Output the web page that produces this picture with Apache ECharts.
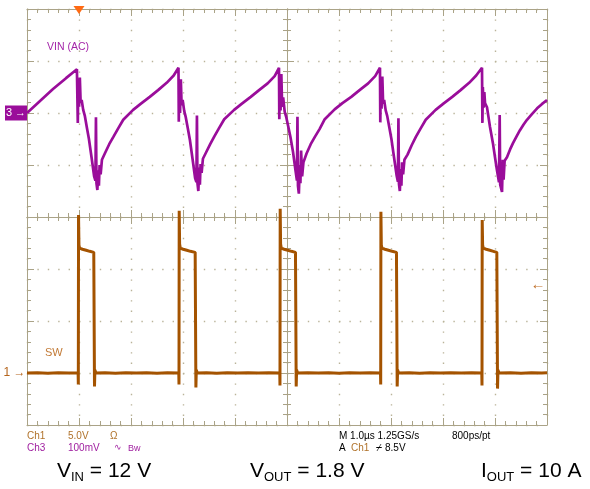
<!DOCTYPE html>
<html><head><meta charset="utf-8">
<script src="https://cdn.jsdelivr.net/npm/echarts@6/dist/echarts.min.js"></script>
<style>html,body{margin:0;padding:0;background:#fff}#c{width:590px;height:489px}</style>
</head><body><div id="c"></div><script>
// Time axis (µs, 1 µs/div, trigger at 0)
const timeRange = [-1, 9];
// Ch1 (SW) volts, 5 V/div
const ch1Range = [-5, 35];
// Ch3 (VIN AC) millivolts, 100 mV/div
const ch3Range = [-600, 200];
const triggerLevel = 8.5;

// SW node voltage [µs, V]
const swPoints = [
 [-1.0,0.0],[-0.8,0.03],[-0.6,-0.02],[-0.4,0.03],[-0.2,0.0],[-0.017,0.02],
 [-0.013,-1.1],[-0.009,15.2],[-0.001,12.3],[0.012,12.0],[0.067,11.9],[0.137,11.8],[0.207,11.7],[0.284,11.6],[0.294,11.5],[0.298,-1.3],[0.306,0.3],[0.324,0.0],
 [0.5,0.02],[0.7,-0.02],[0.9,0.03],[1.1,0.0],[1.3,0.03],[1.5,-0.02],[1.7,0.02],[1.919,0.0],
 [1.923,-1.1],[1.927,15.6],[1.935,12.4],[1.948,12.0],[2.003,11.9],[2.073,11.8],[2.143,11.7],[2.234,11.6],[2.244,11.5],[2.248,-1.4],[2.256,0.3],[2.274,0.0],
 [2.45,0.02],[2.65,-0.02],[2.85,0.03],[3.05,0.0],[3.25,0.03],[3.45,0.01],[3.65,0.02],[3.861,0.0],
 [3.865,-1.2],[3.869,15.8],[3.877,12.4],[3.89,12.0],[3.945,11.9],[4.015,11.8],[4.085,11.7],[4.163,11.6],[4.173,11.5],[4.177,-1.3],[4.185,0.3],[4.203,0.0],
 [4.4,0.02],[4.6,0.0],[4.8,0.03],[5.0,-0.02],[5.2,0.02],[5.4,0.01],[5.6,0.02],[5.798,0.0],
 [5.802,-1.1],[5.806,15.5],[5.814,12.3],[5.827,12.0],[5.882,11.9],[5.952,11.8],[6.022,11.7],[6.105,11.6],[6.115,11.5],[6.119,-1.3],[6.127,0.3],[6.145,0.0],
 [6.35,0.02],[6.55,-0.02],[6.75,0.02],[6.95,0.0],[7.15,0.03],[7.35,0.01],[7.55,0.02],[7.746,0.0],
 [7.75,-1.2],[7.754,14.7],[7.762,12.3],[7.775,12.0],[7.83,11.9],[7.9,11.8],[7.97,11.7],[8.035,11.6],[8.045,11.5],[8.049,-1.5],[8.057,0.3],[8.075,0.0],
 [8.3,0.02],[8.5,-0.02],[8.7,0.02],[8.9,0.01],[9.0,0.02]
];

// VIN ripple (AC) [µs, mV]
const vinPoints = [
 [-1.0,0],[-0.75,23],[-0.5,46],[-0.25,67],[-0.04,84],
 [-0.029,87],[-0.023,-19],[-0.014,55],[0.001,12],[0.016,68],[0.031,20],[0.051,25],[0.081,6],[0.111,-5],[0.151,-28],[0.191,-50],[0.241,-85],[0.291,-122],[0.316,-130],[0.326,-8],[0.336,-135],[0.353,-148],[0.371,-110],[0.383,-140],[0.396,-100],[0.416,-118],[0.441,-90],[0.501,-77],[0.581,-60],[0.661,-46],[0.751,-30],[0.851,-13],[1.041,6],[1.191,18],[1.361,31],[1.521,44],[1.686,58],[1.821,72],
 [1.913,87],[1.919,-17],[1.928,60],[1.943,0],[1.958,65],[1.973,15],[1.993,25],[2.023,4],[2.053,-8],[2.093,-30],[2.133,-52],[2.183,-88],[2.233,-125],[2.258,-133],[2.268,-5],[2.278,-135],[2.295,-150],[2.313,-105],[2.325,-138],[2.338,-98],[2.358,-115],[2.383,-88],[2.443,-76],[2.523,-60],[2.603,-45],[2.693,-29],[2.793,-12],[2.983,6],[3.133,18],[3.303,31],[3.463,44],[3.628,57],[3.763,71],
 [3.846,87],[3.852,-12],[3.861,70],[3.876,5],[3.891,75],[3.906,12],[3.926,30],[3.956,2],[3.986,-8],[4.026,-27],[4.066,-46],[4.116,-75],[4.166,-112],[4.191,-130],[4.201,-7],[4.211,-140],[4.228,-155],[4.246,-100],[4.258,-135],[4.271,-72],[4.291,-122],[4.316,-95],[4.376,-78],[4.456,-60],[4.536,-46],[4.626,-31],[4.726,-12],[4.916,7],[5.066,19],[5.236,31],[5.396,44],[5.561,57],[5.696,71],
 [5.788,87],[5.794,-18],[5.803,62],[5.818,8],[5.833,70],[5.848,18],[5.868,25],[5.898,5],[5.928,-6],[5.968,-28],[6.008,-50],[6.058,-85],[6.108,-120],[6.133,-132],[6.143,-10],[6.153,-136],[6.170,-150],[6.188,-108],[6.200,-140],[6.213,-95],[6.233,-118],[6.258,-90],[6.318,-80],[6.398,-62],[6.478,-46],[6.568,-30],[6.668,-13],[6.858,6],[7.008,18],[7.178,31],[7.338,44],[7.503,58],[7.638,72],
 [7.750,87],[7.758,-19],[7.766,50],[7.780,10],[7.795,40],[7.808,19],[7.830,22],[7.846,11],[7.875,-8],[7.904,-27],[7.960,-58],[8.000,-85],[8.038,-110],[8.077,-133],[8.090,-4],[8.100,-138],[8.135,-152],[8.150,-90],[8.165,-128],[8.185,-92],[8.230,-85],[8.290,-70],[8.346,-58],[8.420,-44],[8.480,-33],[8.550,-22],[8.615,-13],[8.710,-2],[8.810,9],[8.900,17],[9.000,25]
];

const GRID = '#aaa387';
const DOT = '#bab399';
const PURPLE = '#9a0d9a';
const ORANGE = '#a45300';
const FONT = '"Liberation Sans", Arial, Helvetica, sans-serif';

function xAx(pos, offset, inside, split) {
  return {type:'value', min:timeRange[0], max:timeRange[1], interval:1, position:pos, offset:offset,
    axisLine:{show:true,onZero:false,lineStyle:{color:GRID,width:1}},
    axisTick:{show:true,inside:inside,length:7,lineStyle:{color:GRID}},
    minorTick:{show:true,splitNumber:5,length:4,lineStyle:{color:GRID}},
    axisLabel:{show:false},
    splitLine:{show:split,lineStyle:{color:DOT,width:1.4,type:[1.4,9]}},
    minorSplitLine:{show:false}};
}
function yAx(pos, offset, inside, split, range, interval) {
  return {type:'value', min:range[0], max:range[1], interval:interval, position:pos, offset:offset,
    axisLine:{show:true,onZero:false,lineStyle:{color:GRID,width:1}},
    axisTick:{show:true,inside:inside,length:7,lineStyle:{color:GRID}},
    minorTick:{show:true,splitNumber:5,length:4,lineStyle:{color:GRID}},
    axisLabel:{show:false},
    splitLine:{show:split,lineStyle:{color:DOT,width:1.4,type:[1.4,9]}},
    minorSplitLine:{show:false}};
}

const chart = echarts.init(document.getElementById('c'), null, {renderer:'canvas'});
const txt = (left, top, text, fill, size) => ({type:'text', left:left, top:top, z:10,
  style:{text:text, fill:fill, font: size + 'px ' + FONT}});
const big = (left, main, sub, rest) => ({type:'text', left:left, top:461, z:10,
  style:{text:'{m|' + main + '}{s|' + sub + '}{m|' + rest + '}', fill:'#000',
    rich:{m:{fontSize:21, lineHeight:24, fontFamily:FONT, fill:'#000'},
          s:{fontSize:13, lineHeight:9, verticalAlign:'bottom', fontFamily:FONT, fill:'#000'}}}});

chart.setOption({
  animation:false,
  backgroundColor:'#ffffff',
  grid:{left:27, top:9, width:520, height:416, containLabel:false},
  xAxis:[
    xAx('bottom', 0, true, true),
    xAx('top', 0, true, false),
    xAx('bottom', -208, false, false),
    xAx('top', -208, false, false)
  ],
  yAxis:[
    yAx('left', 0, true, true, ch1Range, 5),
    yAx('right', 0, true, false, ch3Range, 100),
    yAx('left', -260, false, false, ch1Range, 5),
    yAx('right', -260, false, false, ch1Range, 5)
  ],
  series:[
    {type:'line', name:'VIN (AC)', xAxisIndex:0, yAxisIndex:1, data:vinPoints, showSymbol:false, symbol:'none',
     lineStyle:{color:PURPLE, width:2.7}, z:3,
     markPoint:{data:[
       {name:'ch3', coord:[timeRange[0],0], symbol:'rect', symbolSize:[22,15], symbolOffset:[-11,0],
        itemStyle:{color:PURPLE}, label:{show:true, position:'inside', formatter:'3 →', color:'#fff', fontSize:11, fontFamily:FONT}}
     ]}},
    {type:'line', name:'SW', xAxisIndex:0, yAxisIndex:0, data:swPoints, showSymbol:false, symbol:'none',
     lineStyle:{color:ORANGE, width:3}, z:4,
     markPoint:{data:[
       {name:'ch1', coord:[timeRange[0],0], symbol:'rect', symbolSize:1, itemStyle:{color:'rgba(0,0,0,0)'},
        label:{show:true, position:'left', distance:1, formatter:'1 →', color:'#b5651d', fontSize:12, fontFamily:FONT}},
       {name:'trigpos', coord:[0,ch1Range[1]], symbol:'triangle', symbolRotate:180, symbolSize:[11,8], symbolOffset:[0,1],
        itemStyle:{color:'#ff6a13'}, label:{show:false}},
       {name:'triglevel', coord:[timeRange[1],triggerLevel], symbol:'rect', symbolSize:1, itemStyle:{color:'rgba(0,0,0,0)'},
        label:{show:true, position:'left', distance:1, formatter:'←', color:'#c0702a', fontSize:15, fontFamily:FONT}}
     ]}}
  ],
  graphic:[
    txt(47, 42, 'VIN (AC)', '#a324a8', 10.5),
    txt(45, 347, 'SW', '#c27a36', 11),
    txt(27, 431, 'Ch1', '#b0722a', 10),
    txt(68, 431, '5.0V', '#b0722a', 10),
    txt(110, 431, 'Ω', '#b0722a', 10),
    txt(27, 443, 'Ch3', '#a020a0', 10),
    txt(68, 443, '100mV', '#a020a0', 10),
    txt(114, 443, '∿', '#a020a0', 9),
    txt(128, 444, 'Bw', '#a020a0', 9),
    txt(339, 431, 'M 1.0µs 1.25GS/s', '#000', 10),
    txt(452, 431, '800ps/pt', '#000', 10),
    txt(339, 443, 'A', '#000', 10),
    txt(351, 443, 'Ch1', '#b0722a', 10),
    txt(376, 443, '⌿', '#000', 10),
    txt(385, 443, '8.5V', '#000', 10),
    big(57, 'V', 'IN', ' = 12 V'),
    big(250, 'V', 'OUT', ' = 1.8 V'),
    big(481, 'I', 'OUT', ' = 10 A')
  ]
});
</script></body></html>
